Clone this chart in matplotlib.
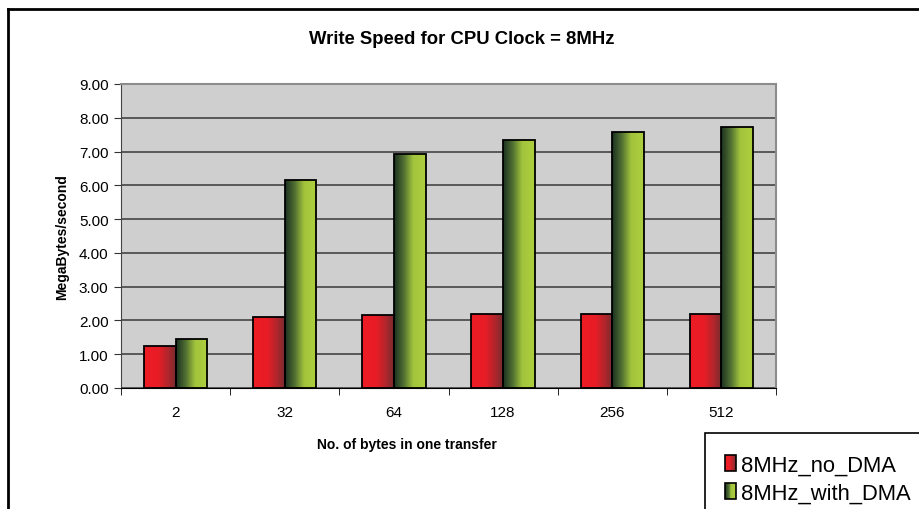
import numpy as np
import matplotlib
matplotlib.use("Agg")
import matplotlib.pyplot as plt
from matplotlib.colors import LinearSegmentedColormap
from matplotlib.patches import Rectangle
from matplotlib.lines import Line2D
from matplotlib.legend_handler import HandlerBase

plt.rcParams['font.family'] = ['Liberation Sans', 'DejaVu Sans']

categories = ["2", "32", "64", "128", "256", "512"]
no_dma = [1.24, 2.10, 2.15, 2.18, 2.19, 2.20]
with_dma = [1.44, 6.15, 6.93, 7.34, 7.57, 7.73]
series_names = ["8MHz_no_DMA", "8MHz_with_DMA"]
yticks = [0, 1, 2, 3, 4, 5, 6, 7, 8, 9]

red_cmap = LinearSegmentedColormap.from_list(
    "red", [(0, '#ED1C24'), (0.45, '#E81D26'), (0.75, '#B0262C'), (1, '#762C30')])
green_cmap = LinearSegmentedColormap.from_list(
    "green", [(0, '#1A3020'), (0.3, '#4F6E32'), (0.6, '#A2C43C'), (1, '#AECF3E')])

fig = plt.figure(figsize=(9.19, 5.10), dpi=100)
fig.patch.set_facecolor('white')

ax = fig.add_axes([121/919, 1-389/510, (776-121)/919, (389-85)/510])
ax.set_facecolor('#CFCFCF')

x = np.arange(len(categories))
w = 0.29
grad = np.linspace(0, 1, 256).reshape(1, -1)

def grad_bars(xpos, vals, cmap):
    bars = ax.bar(xpos, vals, width=w, facecolor='none', edgecolor='black',
                  linewidth=1.3, zorder=3)
    for b in bars:
        x0, y0 = b.get_x(), b.get_y()
        im = ax.imshow(grad, extent=[x0, x0 + b.get_width(), y0, y0 + b.get_height()],
                       aspect='auto', cmap=cmap, zorder=2.5, interpolation='bilinear')
        im.set_clip_path(b)
    return bars

grad_bars(x - w/2, no_dma, red_cmap)
grad_bars(x + w/2, with_dma, green_cmap)

ax.set_xlim(-0.5, len(categories) - 0.5)
ax.set_ylim(0, 9)
ax.set_yticks(yticks)
ax.set_yticklabels([f"{v:.2f}" for v in yticks], fontsize=11)
ax.yaxis.grid(True, color='#4F4F4F', linewidth=1.3, zorder=1)
ax.set_axisbelow(True)

ax.set_xticks(x)
ax.set_xticklabels(categories, fontsize=11)
ax.tick_params(axis='x', which='major', length=0, pad=12)
ax.set_xticks(np.arange(-0.5, len(categories)), minor=True)
ax.tick_params(axis='x', which='minor', length=5, direction='out', color='black')
ax.tick_params(axis='y', length=5, direction='out', color='#333333', pad=4)

for side in ['top', 'right']:
    ax.spines[side].set_color('#8C8C8C')
    ax.spines[side].set_linewidth(1.5)
ax.spines['left'].set_color('#444444')
ax.spines['bottom'].set_color('black')

fig.text(462/919, 1-40/510, "Write Speed for CPU Clock = 8MHz", ha='center', va='center',
         fontsize=13.3, fontweight='bold')
fig.text(407/919, 1-445/510, "No. of bytes in one transfer", ha='center', va='center',
         fontsize=10, fontweight='bold')
fig.text(62/919, 1-237/510, "MegaBytes/second", ha='center', va='center',
         fontsize=10, fontweight='bold', rotation=90)

# figure border (left and top edges visible)
fig.add_artist(Line2D([8/919, 8/919], [0, 1-10/510], color='black', linewidth=2,
                      transform=fig.transFigure))
fig.add_artist(Line2D([8/919, 1], [1-10/510, 1-10/510], color='black', linewidth=2,
                      transform=fig.transFigure))

# legend box (extends past the right and bottom edges)
fig.add_artist(Rectangle((705/919, -0.05), 0.3, (1-434/510) + 0.05, transform=fig.transFigure,
                         facecolor='white', edgecolor='black', linewidth=1.2))


class GradHandler(HandlerBase):
    def __init__(self, cmap):
        super().__init__()
        self.cmap = cmap

    def create_artists(self, legend, orig_handle, xdescent, ydescent, width, height,
                       fontsize, trans):
        n = 12
        sw = width / n
        arts = []
        for i in range(n):
            r = Rectangle((i * sw, 0), sw, height,
                          facecolor=self.cmap((i + 0.5) / n), edgecolor='none',
                          transform=trans)
            arts.append(r)
        arts.append(Rectangle((0, 0), width, height, facecolor='none',
                              edgecolor='black', linewidth=1.2, transform=trans))
        return arts


h1 = Rectangle((0, 0), 1, 1)
h2 = Rectangle((0, 0), 1, 1)
leg = fig.legend([h1, h2], series_names,
                 handler_map={h1: GradHandler(red_cmap), h2: GradHandler(green_cmap)},
                 loc='upper left', bbox_to_anchor=(725/919, 1-456/510),
                 fontsize=15.8, frameon=False, borderaxespad=0,
                 handlelength=0.5, handleheight=0.75, handletextpad=0.25,
                 borderpad=0, labelspacing=0.3)

fig.savefig("out.png", dpi=100)
